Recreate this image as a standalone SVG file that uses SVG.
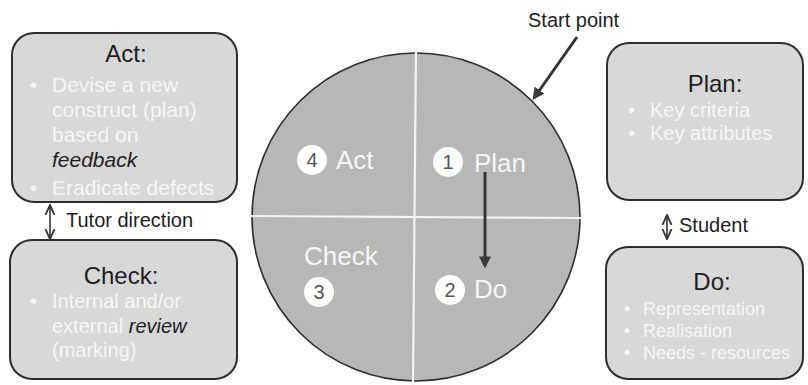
<svg xmlns="http://www.w3.org/2000/svg" width="808" height="385" viewBox="0 0 808 385">
  <defs>
    <marker id="head" viewBox="0 0 10 10" refX="8" refY="5" markerWidth="4" markerHeight="4" orient="auto-start-reverse">
      <path d="M0,0 L10,5 L0,10 Z" fill="#3a3a3a"/>
    </marker>
    <marker id="thin" viewBox="0 0 10 10" refX="8" refY="5" markerWidth="7" markerHeight="7" orient="auto-start-reverse">
      <path d="M0,1 L9,5 L0,9" fill="none" stroke="#333" stroke-width="1.6"/>
    </marker>
  </defs>
  <style>
    .box { fill: #d8d8d8; stroke: #2e2e2e; stroke-width: 2; }
    .head { font-family: "Liberation Sans", Arial, sans-serif; font-size: 24px; fill: #1e1e1e; text-anchor: middle; }
    .bul { font-family: "Liberation Sans", Arial, sans-serif; fill: #f6f6f6; }
    .em { font-style: italic; fill: #1e1e1e; }
    .lbl { font-family: "Liberation Sans", Arial, sans-serif; font-size: 20px; fill: #1e1e1e; }
    .quad { font-family: "Liberation Sans", Arial, sans-serif; font-size: 26px; fill: #f6f6f6; }
    .num { fill: #ffffff; }
    .digit { font-family: "Liberation Sans", Arial, sans-serif; font-size: 20px; fill: #555; text-anchor: middle; }
    .conn { stroke: #333; stroke-width: 3; fill: none; }
  </style>
  <rect width="808" height="385" fill="#ffffff"/>

  <!-- PDCA wheel -->
  <g id="wheel">
    <circle cx="416" cy="217" r="164" fill="#b7b7b7" stroke="#2e2e2e" stroke-width="1.6"/>
    <line x1="416" y1="47" x2="413" y2="385" stroke="#f4f4f4" stroke-width="2.2"/>
    <line x1="250" y1="216" x2="582" y2="218" stroke="#f4f4f4" stroke-width="2.2"/>
  </g>

  <g id="q-act">
    <circle class="num" cx="312" cy="160" r="15"/>
    <text class="digit" x="312" y="167" font-family="Liberation Serif">4</text>
    <text class="quad" x="336" y="169">Act</text>
  </g>
  <g id="q-plan">
    <circle class="num" cx="448" cy="162" r="15"/>
    <text class="digit" x="448" y="169" font-family="Liberation Serif">1</text>
    <text class="quad" x="474" y="172">Plan</text>
  </g>
  <g id="q-check">
    <text class="quad" x="304" y="265">Check</text>
    <circle class="num" cx="319" cy="292" r="15"/>
    <text class="digit" x="319" y="299">3</text>
  </g>
  <g id="q-do">
    <circle class="num" cx="450" cy="290" r="15"/>
    <text class="digit" x="450" y="297">2</text>
    <text class="quad" x="474" y="298">Do</text>
  </g>

  <!-- Act box -->
  <g id="act">
    <rect class="box" x="12" y="33" width="225" height="169" rx="22"/>
    <text class="head" x="126" y="62">Act:</text>
    <g class="bul" font-size="21">
      <text x="30" y="92">•</text>
      <text x="52" y="92">Devise a new</text>
      <text x="52" y="117">construct (plan)</text>
      <text x="52" y="142">based on</text>
      <text x="52" y="167" class="em">feedback</text>
      <text x="30" y="195">•</text>
      <text x="52" y="195">Eradicate defects</text>
    </g>
  </g>

  <!-- Check box -->
  <g id="check">
    <rect class="box" x="10" y="240" width="227" height="139" rx="22"/>
    <text class="head" x="121" y="284">Check:</text>
    <g class="bul" font-size="20">
      <text x="30" y="308">•</text>
      <text x="52" y="308">Internal and/or</text>
      <text x="52" y="333">external <tspan class="em">review</tspan></text>
      <text x="52" y="357">(marking)</text>
    </g>
  </g>

  <!-- Plan box -->
  <g id="plan">
    <rect class="box" x="607" y="43" width="196" height="157" rx="22"/>
    <text class="head" x="715" y="92">Plan:</text>
    <g class="bul" font-size="20">
      <text x="628" y="117">•</text>
      <text x="650" y="117">Key criteria</text>
      <text x="628" y="140">•</text>
      <text x="650" y="140">Key attributes</text>
    </g>
  </g>

  <!-- Do box -->
  <g id="do">
    <rect class="box" x="606" y="247" width="197" height="132" rx="22"/>
    <text class="head" x="712" y="290">Do:</text>
    <g class="bul" font-size="18">
      <text x="624" y="315">•</text>
      <text x="643" y="315">Representation</text>
      <text x="624" y="337">•</text>
      <text x="643" y="337">Realisation</text>
      <text x="624" y="359">•</text>
      <text x="643" y="359">Needs - resources</text>
    </g>
  </g>

  <!-- Labels beside the links -->
  <g id="labels">
    <text class="lbl" x="528" y="27">Start point</text>
    <text class="lbl" x="66" y="227">Tutor direction</text>
    <text class="lbl" x="679" y="232">Student</text>
  </g>

  <!-- Connectors -->
  <g id="connectors">
    <line class="conn" x1="577" y1="37" x2="534" y2="98" marker-end="url(#head)"/>
    <line class="conn" x1="485" y1="172" x2="485" y2="266" stroke="#3a3a3a" marker-end="url(#head)"/>
    <line x1="50" y1="206" x2="50" y2="238" stroke="#333" stroke-width="1.6" marker-start="url(#thin)" marker-end="url(#thin)"/>
    <line x1="667" y1="216" x2="667" y2="238" stroke="#333" stroke-width="1.6" marker-start="url(#thin)" marker-end="url(#thin)"/>
  </g>
</svg>
